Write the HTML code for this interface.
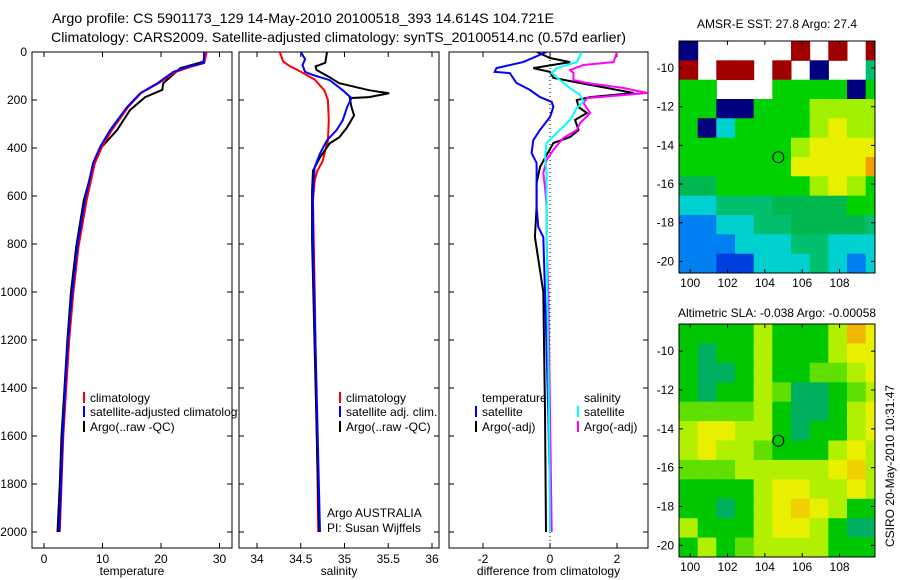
<!DOCTYPE html>
<html><head><meta charset="utf-8"><style>
html,body{margin:0;padding:0;background:#fff}
svg{display:block;font-family:"Liberation Sans",sans-serif}
</style></head><body>
<svg id="fig" width="900" height="580" viewBox="0 0 900 580" xmlns="http://www.w3.org/2000/svg">
<defs>
<clipPath id="c1"><rect x="32" y="52" width="206" height="497"/></clipPath>
<clipPath id="c2"><rect x="239" y="52" width="200" height="497"/></clipPath>
<clipPath id="c3"><rect x="449" y="52" width="199" height="497"/></clipPath>
<clipPath id="cm1"><rect x="679" y="41" width="196" height="232"/></clipPath>
<clipPath id="cm2"><rect x="679" y="324" width="196" height="233"/></clipPath>
</defs>
<text x="52" y="23" font-size="14" textLength="502" lengthAdjust="spacingAndGlyphs">Argo profile: CS 5901173_129 14-May-2010 20100518_393 14.614S 104.721E</text>
<text x="51" y="42" font-size="14" textLength="575" lengthAdjust="spacingAndGlyphs">Climatology: CARS2009. Satellite-adjusted climatology: synTS_20100514.nc (0.57d earlier)</text>
<g id="g1"></g>
<g id="g2"></g>
<g id="g3"></g>
<g id="m1"></g>
<g id="m2"></g>
<text x="777" y="28" font-size="12" text-anchor="middle">AMSR-E SST: 27.8  Argo: 27.4</text>
<text x="777" y="317" font-size="12" text-anchor="middle">Altimetric SLA: -0.038  Argo: -0.00058</text>
<text transform="translate(894,547) rotate(-90)" font-size="12">CSIRO 20-May-2010 10:31:47</text>
<text x="327" y="517" font-size="12">Argo AUSTRALIA</text>
<text x="327" y="532" font-size="12">PI: Susan Wijffels</text>
</svg>
<script>
// ---- profile data (depth in m, values) ----
const depthsTClim=[0,46,62,83,130,171,229,325,395,462,617,812,1004,1200,1400,1600,1800,2000];
const tempClim=[27.8,27.4,25,22.5,19.6,16.6,14.4,11.6,9.9,8.7,7.3,5.9,5.0,4.3,3.8,3.3,3.0,2.7];
const depthsTSat=[0,46,62,83,130,171,229,325,395,462,617,812,1004,1200,1400,1600,1800,2000];
const tempSat=[27.4,27.3,24.5,22.1,19.4,16.5,14.2,11.3,9.6,8.4,7.0,5.7,4.8,4.1,3.6,3.2,2.9,2.6];
const depthsTArgo=[0,40,67,130,158,188,242,325,395,479,617,812,1004,1200,1400,1600,1800,2000];
const tempArgo=[27.4,27.3,23.3,20.4,20.2,17.3,14.7,12.5,9.9,8.4,6.8,5.5,4.6,4.0,3.5,3.0,2.7,2.3];

const depthsSClim=[0,40,60,80,115,160,200,285,370,410,455,495,535,620,1000,2000];
const salClim=[34.26,34.30,34.38,34.49,34.66,34.77,34.81,34.82,34.81,34.78,34.75,34.69,34.66,34.64,34.66,34.70];
const depthsSSat=[0,30,55,83,96,117,159,192,230,285,325,368,423,480,577,787,2000];
const salSat=[34.50,34.55,34.52,34.55,34.64,34.83,34.98,35.08,35.03,34.98,34.91,34.80,34.72,34.66,34.64,34.64,34.72];
const depthsSArgo=[0,45,60,75,105,130,159,172,188,192,230,264,314,356,381,439,494,577,787,2000];
const salArgo=[34.80,34.78,34.67,34.68,34.83,34.94,35.28,35.51,35.28,35.06,35.08,35.11,35.03,34.94,34.83,34.72,34.64,34.63,34.63,34.71];

const depthsDT=[0,25,42,67,83,108,129,171,188,200,229,254,283,325,354,379,429,479,546,646,771,1000,1500,2000];
const diffTArgo=[-0.39,0,0.6,-0.5,0,0.1,0.9,2.5,1.2,0.8,0.85,1.1,0.75,0.85,0.6,0.1,-0.1,-0.3,-0.4,-0.4,-0.45,-0.2,-0.15,-0.12];
const depthsDTS=[0,42,67,83,88,129,158,188,208,229,271,325,367,421,463,533,646,729,771,1000,1500,2000];
const diffTSat=[-0.1,-0.8,-1.6,-1.65,-1.2,-1.0,-0.6,-0.3,0.05,0.1,0,-0.3,-0.5,-0.55,-0.4,-0.4,-0.4,-0.35,-0.2,-0.15,-0.05,0.02];
const depthsDS=[0,42,54,75,88,117,129,150,171,192,213,254,296,325,358,408,450,504,563,646,783,1000,2000];
const diffSArgo=[2.0,1.9,1.0,0.6,0.7,0.7,1.1,2.2,2.9,1.1,1.0,1.2,0.9,0.8,0.4,0.1,-0.1,-0.2,-0.15,-0.1,-0.1,-0.05,0.05];
const depthsDSS=[0,42,67,88,117,146,179,208,233,283,338,379,438,504,783,1500,2000];
const diffSSat=[0.95,0.8,0.2,0.05,0.3,0.55,0.9,1.0,0.8,0.6,0.2,-0.1,-0.15,-0.1,-0.1,-0.03,0];

const depthTicks=[0,200,400,600,800,1000,1200,1400,1600,1800,2000];
const tempTicks=[0,10,20,30];
const salTicks=[34,34.5,35,35.5,36];
const diffTicks=[-2,0,2];

// ---- map data ----
const mapLonTicks=[100,102,104,106,108];
const mapLatTicks=[-10,-12,-14,-16,-18,-20];
const argoLon=104.72, argoLat=-14.61;
// SST grid (deg C), rows from north (-8.6) southward in 1 deg steps, cols from 99.4E; null = no data
const sstGrid=[
[24.0,null,null,null,null,null,30,null,30,null,30],
[30,null,30,30,null,30,null,24.0,null,null,26.8],
[27.3,27.3,null,null,null,27.3,27.3,27.3,27.3,24.0,27.3],
[27.3,27.3,24.0,24.0,27.3,27.3,27.3,27.8,27.8,27.8,27.8],
[27.3,24.0,26.3,27.3,27.3,27.3,27.3,27.8,28.2,27.8,27.8],
[27.3,27.3,27.3,27.3,27.3,27.3,27.8,28.2,28.2,28.2,28.2],
[27.3,27.3,27.3,27.3,27.3,27.3,28.2,28.2,28.2,28.2,28.6],
[27.0,27.0,27.3,27.3,27.3,27.3,27.3,27.8,28.2,27.8,27.3],
[26.3,26.3,26.8,26.8,26.8,27.0,27.0,27.0,27.0,27.3,27.3],
[25.5,25.5,26.3,26.3,26.8,26.8,27.0,27.0,27.0,27.0,26.8],
[25.5,25.5,25.5,26.3,26.3,26.3,26.8,26.8,26.3,26.3,26.3],
[25.5,25.5,25.0,25.0,26.3,26.3,26.3,26.8,26.3,25.5,26.3]];
// SLA grid (m)
const slaGrid=[
[-0.05,-0.05,-0.05,-0.05,0.02,-0.05,-0.05,-0.05,0.02,0.10,0.05],
[-0.05,-0.08,-0.05,-0.05,0.02,-0.05,-0.05,-0.05,0.02,0.05,0.05],
[-0.05,-0.08,-0.08,-0.05,0.02,-0.05,-0.05,-0.01,-0.01,0.02,0.05],
[-0.05,-0.08,-0.05,-0.05,0.02,-0.01,-0.08,-0.08,-0.05,-0.01,0.02],
[-0.01,-0.01,-0.01,-0.01,0.02,-0.05,-0.08,-0.08,-0.05,0.02,0.05],
[0.02,0.05,0.05,0.02,0.02,-0.05,-0.08,-0.05,-0.05,0.02,0.05],
[0.02,0.05,0.02,0.02,-0.01,-0.05,-0.05,-0.05,0.02,0.05,0.02],
[-0.01,-0.01,-0.01,0.02,0.02,0.02,0.02,0.02,0.05,0.08,0.02],
[-0.05,-0.05,-0.05,-0.05,0.02,0.05,0.05,0.02,0.02,0.05,0.02],
[-0.05,-0.05,-0.08,-0.05,0.02,0.05,0.08,0.05,0.02,-0.05,-0.05],
[0.02,-0.05,-0.05,-0.05,0.02,0.05,0.05,0.02,-0.05,-0.08,-0.08],
[-0.05,0.02,-0.05,-0.01,0.02,0.02,0.02,0.02,-0.05,-0.05,-0.05]];

const NS='http://www.w3.org/2000/svg';
function mk(tag,attrs,parent){const e=document.createElementNS(NS,tag);for(const k in attrs)e.setAttribute(k,attrs[k]);parent.appendChild(e);return e;}
const TOP=52,BOT=548;
const yD=d=>TOP+d*0.24;

function panel(g,x0,x1,xs,ticks,fmt,label,yl,clip){
  const fr=mk('rect',{x:x0,y:TOP,width:x1-x0,height:BOT-TOP,fill:'none',stroke:'#000','stroke-width':1},g);
  
  
  ticks.forEach(v=>{const x=xs(v);
    mk('line',{x1:x,x2:x,y1:TOP,y2:TOP+5,stroke:'#000'},g);
    mk('line',{x1:x,x2:x,y1:BOT,y2:BOT-5,stroke:'#000'},g);
    const t=mk('text',{x:x,y:BOT+15,'font-size':12,'text-anchor':'middle'},g);t.textContent=fmt(v);
    
    
  });
  depthTicks.forEach(d=>{const y=yD(d);
    mk('line',{x1:x0,x2:x0+5,y1:y,y2:y,stroke:'#000'},g);
    mk('line',{x1:x1,x2:x1-5,y1:y,y2:y,stroke:'#000'},g);
    if(yl){const t=mk('text',{x:27,y:y+4,'font-size':12,'text-anchor':'end'},g);t.textContent=d;
      
      }
  });
  const l=mk('text',{x:(x0+x1)/2,y:575,'font-size':12,'text-anchor':'middle'},g);l.textContent=label;
  
  
}
function line(g,xs,ds,vs,col,name,clip){
  const p=ds.map((d,i)=>xs(vs[i]).toFixed(1)+','+yD(d).toFixed(1)).join(' ');
  const e=mk('polyline',{points:p,fill:'none',stroke:col,'stroke-width':2,'clip-path':'url(#'+clip+')'},g);
  
  
}
function legend(g,x,y,col,txt,clip){
  if(col){const m=mk('line',{x1:x-6,x2:x-6,y1:y-10,y2:y+1,stroke:col,'stroke-width':2},g);
    
    }
  const t=mk('text',{x:x,y:y,'font-size':12},g);t.textContent=txt;
  if(clip)t.setAttribute('clip-path','url(#'+clip+')');
  
  
}
// panel 1
const g1=document.getElementById('g1');
const xT=v=>44+v*5.85;
panel(g1,32,232,xT,tempTicks,v=>v,'temperature',true);
line(g1,xT,depthsTArgo,tempArgo,'#000','argo-temperature-line','c1');
line(g1,xT,depthsTClim,tempClim,'#f00','climatology-temperature-line','c1');
line(g1,xT,depthsTSat,tempSat,'#00f','satellite-temperature-line','c1');
legend(g1,90,402,'#f00','climatology');
legend(g1,90,416,'#00f','satellite-adjusted climatology','c1');
legend(g1,90,431,'#000','Argo(..raw -QC)');
// panel 2
const g2=document.getElementById('g2');
const xS=v=>257+(v-34)*87.5;
panel(g2,239,439,xS,salTicks,v=>v,'salinity',false);
line(g2,xS,depthsSClim,salClim,'#f00','climatology-salinity-line','c2');
line(g2,xS,depthsSArgo,salArgo,'#000','argo-salinity-line','c2');
line(g2,xS,depthsSSat,salSat,'#00f','satellite-salinity-line','c2');
legend(g2,346,402,'#f00','climatology');
legend(g2,346,416,'#00f','satellite adj. clim.');
legend(g2,346,431,'#000','Argo(..raw -QC)');
// panel 3
const g3=document.getElementById('g3');
const xDf=v=>550+v*33.5;
panel(g3,449,648,xDf,diffTicks,v=>v,'difference from climatology',false);
const zl=mk('line',{x1:xDf(0),x2:xDf(0),y1:TOP,y2:BOT,stroke:'#000','stroke-dasharray':'1,3'},g3);


line(g3,xDf,depthsDT,diffTArgo,'#000','argo-temp-diff-line','c3');
line(g3,xDf,depthsDTS,diffTSat,'#00f','sat-temp-diff-line','c3');
line(g3,xDf,depthsDS,diffSArgo,'#f0f','argo-sal-diff-line','c3');
line(g3,xDf,depthsDSS,diffSSat,'#0ff','sat-sal-diff-line','c3');
legend(g3,482,402,null,'temperature');
legend(g3,482,416,'#00f','satellite');
legend(g3,482,431,'#000','Argo(-adj)');
legend(g3,584,402,null,'salinity');
legend(g3,584,416,'#0ff','satellite');
legend(g3,584,431,'#f0f','Argo(-adj)');

// maps
function interp(stops,v){
  if(v<=stops[0][0])return stops[0][1];
  for(let i=1;i<stops.length;i++){if(v<=stops[i][0]){const a=stops[i-1],b=stops[i],t=(v-a[0])/(b[0]-a[0]);
    return 'rgb('+a[1].map((c,k)=>Math.round(c+(b[1][k]-c)*t)).join(',')+')';}}
  return stops[stops.length-1][1];
}
function toRgb(s){return Array.isArray(s)?'rgb('+s.join(',')+')':s;}
const sstStops=[[24,[0,0,128]],[25,[0,64,224]],[25.5,[0,128,240]],[26.3,[0,208,208]],[26.8,[0,192,112]],[27.0,[0,184,80]],[27.3,[0,210,0]],[27.8,[160,240,0]],[28.2,[232,240,0]],[28.6,[240,160,0]],[29.5,[170,0,0]],[30,[160,0,0]]];
const slaStops=[[-0.08,[0,176,96]],[-0.05,[0,200,0]],[-0.01,[96,224,0]],[0.02,[176,240,0]],[0.05,[232,240,0]],[0.08,[240,208,0]],[0.10,[240,184,0]]];
function mapCol(stops,v){const c=interp(stops,v);return typeof c==='string'?c:toRgb(c);}
function drawMap(gid,grid,stops,x0,y0,w,h,latTop,latBot,lon0,lon1,clip,cellName){
  const g=document.getElementById(gid);
  const xL=lon=>x0+(lon-lon0)/(lon1-lon0)*w;
  const yL=lat=>y0+(latTop-lat)/(latTop-latBot)*h;
  grid.forEach((row,r)=>row.forEach((v,c)=>{
    if(v===null)return;
    const la=latTop-r, lo=lon0+c;
    const xa=xL(lo),xb=xL(lo+1),ya=yL(la),yb=yL(la-1);
    const e=mk('rect',{x:xa.toFixed(1),y:ya.toFixed(1),width:(xb-xa+0.5).toFixed(1),height:(yb-ya+0.5).toFixed(1),fill:mapCol(stops,v),'clip-path':'url(#'+clip+')'},g);
    
    
  }));
  const fr=mk('rect',{x:x0,y:y0,width:w,height:h,fill:'none',stroke:'#000'},g);
  
  
  mapLonTicks.forEach(lo=>{const x=xL(lo);
    mk('line',{x1:x,x2:x,y1:y0,y2:y0+4,stroke:'#000'},g);
    mk('line',{x1:x,x2:x,y1:y0+h,y2:y0+h-4,stroke:'#000'},g);
    const t=mk('text',{x:x,y:y0+h+14,'font-size':12,'text-anchor':'middle'},g);t.textContent=lo;
    
    });
  mapLatTicks.forEach(la=>{const y=yL(la);
    mk('line',{x1:x0,x2:x0+4,y1:y,y2:y,stroke:'#000'},g);
    mk('line',{x1:x0+w,x2:x0+w-4,y1:y,y2:y,stroke:'#000'},g);
    const t=mk('text',{x:x0-5,y:y+4,'font-size':12,'text-anchor':'end'},g);t.textContent=la;
    
    });
  const c=mk('circle',{cx:xL(argoLon),cy:yL(argoLat),r:5.5,fill:'none',stroke:'#000'},g);
  
  
}
drawMap('m1',sstGrid,sstStops,679,41,196,232,-8.6,-20.6,99.4,109.9,'cm1','sst-cell');
drawMap('m2',slaGrid,slaStops,679,324,196,233,-8.6,-20.6,99.4,109.9,'cm2','sla-cell');
</script>
</body></html>
